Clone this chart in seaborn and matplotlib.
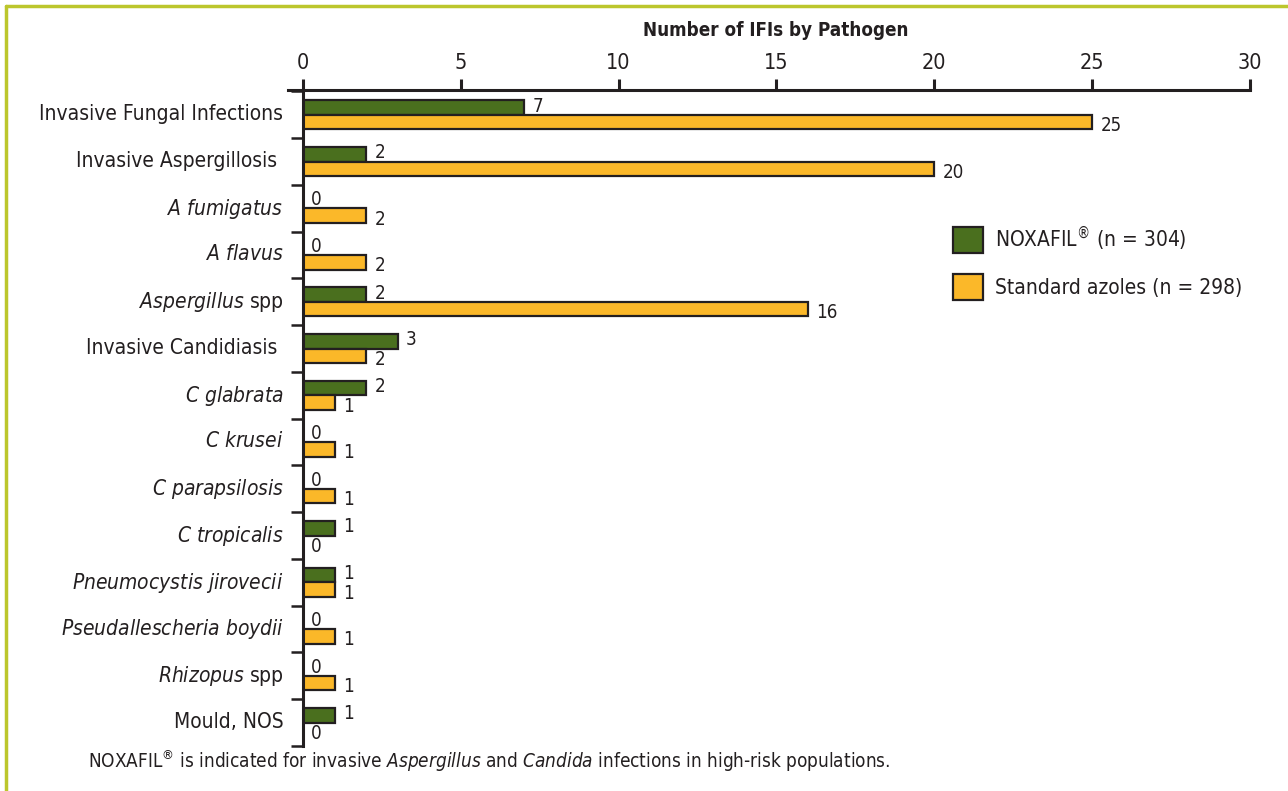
import numpy as np
import pandas as pd
import matplotlib
matplotlib.use("Agg")
import matplotlib.pyplot as plt
import matplotlib.transforms as mtransforms
from matplotlib.lines import Line2D
import seaborn as sns

# Data
pathogens = ["Invasive Fungal Infections", "Invasive Aspergillosis", "A fumigatus", "A flavus",
             "Aspergillus spp", "Invasive Candidiasis", "C glabrata", "C krusei", "C parapsilosis",
             "C tropicalis", "Pneumocystis jirovecii", "Pseudallescheria boydii", "Rhizopus spp",
             "Mould, NOS"]
tick_labels = ["Invasive Fungal Infections", "Invasive Aspergillosis ", r"$\mathit{A\ fumigatus}$",
               r"$\mathit{A\ flavus}$", r"$\mathit{Aspergillus}$ spp", "Invasive Candidiasis ",
               r"$\mathit{C\ glabrata}$", r"$\mathit{C\ krusei}$", r"$\mathit{C\ parapsilosis}$",
               r"$\mathit{C\ tropicalis}$", r"$\mathit{Pneumocystis\ jirovecii}$",
               r"$\mathit{Pseudallescheria\ boydii}$", r"$\mathit{Rhizopus}$ spp", "Mould, NOS"]
noxafil = [7, 2, 0, 0, 2, 3, 2, 0, 0, 1, 1, 0, 0, 1]
azoles = [25, 20, 2, 2, 16, 2, 1, 1, 1, 0, 1, 1, 1, 0]
groups = ["NOXAFIL$^{®}$ (n = 304)", "Standard azoles (n = 298)"]
x_ticks = [0, 5, 10, 15, 20, 25, 30]

df = pd.DataFrame({
    "pathogen": pathogens * 2,
    "count": noxafil + azoles,
    "group": [groups[0]] * len(pathogens) + [groups[1]] * len(pathogens),
})

sns.set_style("white")
font = "DejaVu Sans"
plt.rcParams["font.family"] = [font]
plt.rcParams["font.stretch"] = "condensed"
plt.rcParams["mathtext.fontset"] = "custom"
plt.rcParams["mathtext.rm"] = font + ":stretch=condensed"
plt.rcParams["mathtext.it"] = font + ":style=italic:stretch=condensed"
plt.rcParams["mathtext.bf"] = font + ":weight=bold:stretch=condensed"
plt.rcParams["text.color"] = "#231f20"

ink = "#231f20"
fig = plt.figure(figsize=(12.88, 7.91), dpi=100)
ax = fig.add_axes([0.2352, 0.0569, 0.7353, 0.8293])

sns.barplot(data=df, y="pathogen", x="count", hue="group", orient="h",
            palette=["#4a6f1e", "#fbb829"], width=0.62, saturation=1,
            edgecolor=ink, linewidth=1.6, ax=ax)

# value labels
for i, cont in enumerate(ax.containers):
    anns = ax.bar_label(cont, fmt="%g", padding=6, fontsize=13.5, color=ink)
    for a in anns:
        a.xyann = (6, 1 if i == 0 else -2.5)

ax.set_xlim(0, 30)
ax.set_ylim(13.47, -0.53)
ax.set_xlabel("")
ax.set_ylabel("")

# x axis on top
ax.xaxis.set_ticks_position("top")
ax.set_xticks(x_ticks)
ax.tick_params(axis="x", which="major", direction="out", length=8, width=2.2,
               color=ink, labelsize=15.5, pad=4, labelcolor=ink)

# y axis: labels without ticks, boundary ticks as minor
ax.set_yticks(range(len(pathogens)))
ax.set_yticklabels(tick_labels)
ax.set_yticks(np.arange(-0.5, len(pathogens)), minor=True)
ax.tick_params(axis="y", which="major", length=0, labelsize=15, pad=14, labelcolor=ink)
ax.tick_params(axis="y", which="minor", direction="out", length=9, width=1.8, color=ink, left=True)
shift = mtransforms.ScaledTranslation(0, 2 / 72, fig.dpi_scale_trans)
for lbl in ax.get_yticklabels():
    lbl.set_transform(lbl.get_transform() + shift)

for s in ["right", "bottom"]:
    ax.spines[s].set_visible(False)
for s in ["top", "left"]:
    ax.spines[s].set_color(ink)
    ax.spines[s].set_linewidth(2.2)
ax.spines["top"].set_bounds(-0.47, 30)

# legend
leg = ax.legend(loc="upper left", bbox_to_anchor=(0.686, 0.795), frameon=False, fontsize=15,
                handlelength=1.45, handleheight=1.5, labelspacing=1.0, handletextpad=0.6,
                borderpad=0, borderaxespad=0)

fig.text(0.6025, 1 - 30 / 791, "Number of IFIs by Pathogen", ha="center", va="center",
         fontsize=13.5, fontweight="bold")
fig.text(88 / 1288, 1 - 761 / 791,
         r"NOXAFIL$^{®}$ is indicated for invasive $\mathit{Aspergillus}$ and $\mathit{Candida}$ infections in high-risk populations.",
         ha="left", va="center", fontsize=13.6)

# frame lines at top and left
frame = "#bcc62c"
fig.add_artist(Line2D([6 / 1288, 1], [1 - 6 / 791, 1 - 6 / 791], color=frame, lw=2.5))
fig.add_artist(Line2D([6 / 1288, 6 / 1288], [0, 1 - 6 / 791], color=frame, lw=2.5))

fig.savefig("out.png", dpi=100)
